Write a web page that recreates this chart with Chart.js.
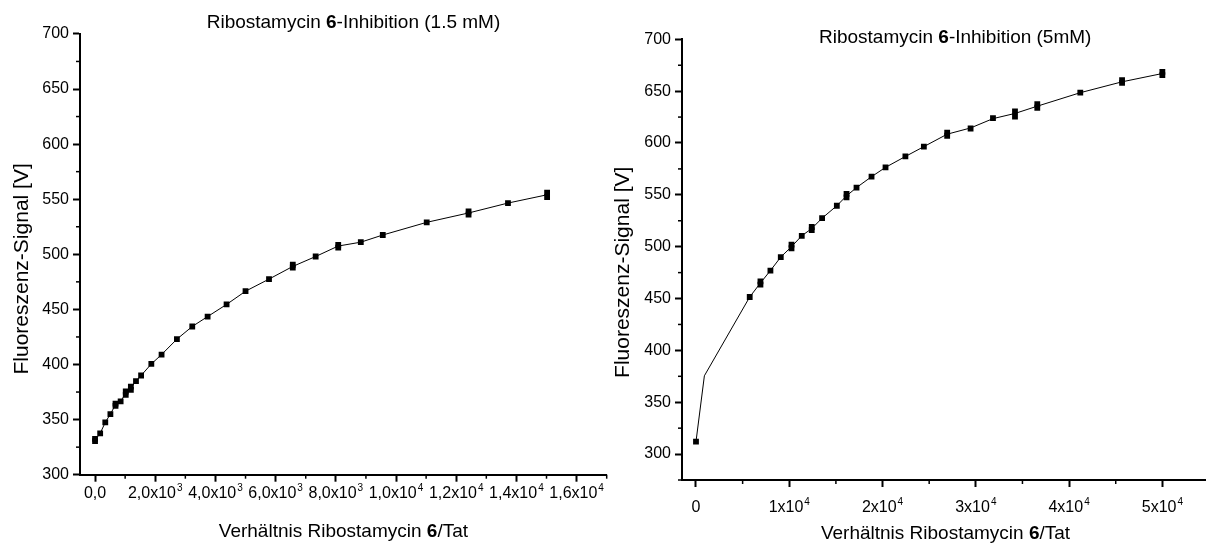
<!DOCTYPE html>
<html>
<head>
<meta charset="utf-8">
<script src="https://cdn.jsdelivr.net/npm/chart.js@4/dist/chart.umd.min.js"></script>
<style>
  html, body { margin: 0; padding: 0; background: #fff; overflow: hidden; }
  body { width: 1206px; height: 549px; position: relative; }
  canvas { position: absolute; top: 0; }
  #left { left: 0; }
  #right { left: 600px; }
</style>
</head>
<body>
<canvas id="left" width="620" height="549"></canvas>
<canvas id="right" width="620" height="549"></canvas>
<script>
// Left panel: Ribostamycin 6 at 1.5 mM
const leftX = [0, 0, 170, 340, 510, 680, 680, 850, 1020, 1020, 1190, 1190, 1360, 1530, 1870, 2210, 2720, 3230, 3740, 4370, 5000, 5780, 6570, 6570, 7330, 8080, 8080, 8830, 9560, 11020, 12410, 12410, 13720, 15020, 15020];
const leftY = [330.5, 332.5, 337.5, 347.5, 355, 362.5, 364.5, 366.5, 372.5, 375.5, 377, 380, 385, 390, 400.5, 409, 423, 434.5, 443.5, 454.5, 466.5, 477.5, 488, 490.5, 498, 506, 508.5, 511, 517.5, 529, 536, 539, 546.5, 552, 556];
const leftFitX = [0, 170, 340, 510, 680, 850, 1020, 1190, 1360, 1530, 1870, 2210, 2720, 3230, 3740, 4370, 5000, 5780, 6570, 7330, 8080, 8830, 9560, 11020, 12410, 13720, 15020];
const leftFitY = [331.5, 337.5, 347.5, 355, 363.5, 366.5, 374, 378.5, 385, 390, 400.5, 409, 423, 434.5, 443.5, 454.5, 466.5, 477.5, 489, 498, 507.5, 511, 517.5, 529, 537.5, 546.5, 554];
const leftTickX = [0, 2000, 4000, 6000, 8000, 10000, 12000, 14000, 16000];
const leftTickXLabels = ["0,0", "2,0x10^3", "4,0x10^3", "6,0x10^3", "8,0x10^3", "1,0x10^4", "1,2x10^4", "1,4x10^4", "1,6x10^4"];

// Right panel: Ribostamycin 6 at 5 mM
const rightX = [0, 5760, 6910, 6910, 7980, 9090, 10240, 10240, 11340, 12410, 12410, 13520, 15100, 16140, 16140, 17210, 18820, 20320, 22450, 24430, 26930, 26930, 29440, 31840, 34200, 34200, 36590, 36590, 41200, 45680, 45680, 50000, 50000];
const rightY = [312, 451.5, 463.5, 466.5, 477, 490, 498.5, 502, 510.5, 516, 519, 527.5, 539.5, 547.5, 551, 557, 567.5, 576.5, 587, 596.5, 607, 610, 614, 624, 625.5, 630.5, 634, 637.5, 648.5, 658, 660.5, 665.5, 668.5];
const rightFitX = [0, 900, 5760, 6910, 7980, 9090, 10240, 11340, 12410, 13520, 15100, 16140, 17210, 18820, 20320, 22450, 24430, 26930, 29440, 31840, 34200, 36590, 41200, 45680, 50000];
const rightFitY = [312, 375.5, 451.5, 465, 477, 490, 500, 510.5, 517.5, 527.5, 539.5, 549, 557, 567.5, 576.5, 587, 596.5, 608.5, 614.5, 623.5, 628.5, 635.5, 648.5, 659, 667];
const rightTickX = [0, 10000, 20000, 30000, 40000, 50000];
const rightTickXLabels = ["0", "1x10^4", "2x10^4", "3x10^4", "4x10^4", "5x10^4"];

const tickY = [300, 350, 400, 450, 500, 550, 600, 650, 700];
const tickYLabels = ["300", "350", "400", "450", "500", "550", "600", "650", "700"];

const FONT = "'Liberation Sans', Arial, sans-serif";

// short outward ticks between the labelled ones
const minorTicks = {
  id: "minorTicks",
  afterDraw(chart, args, opts) {
    const ctx = chart.ctx;
    ctx.save();
    ctx.strokeStyle = "#000";
    ctx.lineWidth = 1.5;
    ["x", "y"].forEach((id) => {
      const s = chart.scales[id];
      const step = opts[id];
      for (let v = Math.ceil(s.min / step) * step; v <= s.max; v += step) {
        if (s.ticks.some((t) => t.value === v)) continue;
        const p = s.getPixelForValue(v);
        ctx.beginPath();
        if (id === "x") {
          ctx.moveTo(p, s.top);
          ctx.lineTo(p, s.top + opts.len);
        } else {
          ctx.moveTo(s.right, p);
          ctx.lineTo(s.right - opts.len, p);
        }
        ctx.stroke();
      }
    });
    ctx.restore();
  },
};

// x tick labels with a raised exponent ("2,0x10^3")
const supTicks = {
  id: "supTicks",
  afterDraw(chart, args, opts) {
    const ctx = chart.ctx;
    const s = chart.scales.x;
    ctx.save();
    ctx.fillStyle = "#000";
    ctx.textBaseline = "alphabetic";
    ctx.textAlign = "left";
    s.ticks.forEach((t) => {
      const parts = opts.labels[opts.values.indexOf(t.value)].split("^");
      ctx.font = "16px " + FONT;
      const w1 = ctx.measureText(parts[0]).width;
      ctx.font = "10px " + FONT;
      const w2 = parts[1] ? ctx.measureText(parts[1]).width + 1 : 0;
      const x0 = s.getPixelForValue(t.value) - (w1 + w2) / 2;
      const y0 = s.top + opts.offset;
      ctx.font = "16px " + FONT;
      ctx.fillText(parts[0], x0, y0);
      if (parts[1]) {
        ctx.font = "10px " + FONT;
        ctx.fillText(parts[1], x0 + w1 + 1, y0 - 7);
      }
    });
    ctx.restore();
  },
};

// titles with a bold "6" in them
const richText = {
  id: "richText",
  afterDraw(chart, args, opts) {
    const ctx = chart.ctx;
    opts.items.forEach((it) => {
      ctx.save();
      ctx.fillStyle = "#000";
      ctx.textBaseline = "alphabetic";
      ctx.textAlign = "left";
      const fonts = it.parts.map((p) => (p[1] ? "bold " : "") + it.size + "px " + FONT);
      let total = 0;
      it.parts.forEach((p, i) => {
        ctx.font = fonts[i];
        total += ctx.measureText(p[0]).width;
      });
      ctx.translate(it.x, it.y);
      if (it.rotate) ctx.rotate(-Math.PI / 2);
      let cx = it.align === "center" ? -total / 2 : 0;
      it.parts.forEach((p, i) => {
        ctx.font = fonts[i];
        ctx.fillText(p[0], cx, 0);
        cx += ctx.measureText(p[0]).width;
      });
      ctx.restore();
    });
  },
};

const xTitle = [["Verhältnis Ribostamycin ", false], ["6", true], ["/Tat", false]];
const yTitle = [["Fluoreszenz-Signal [V]", false]];

const makeChart = (id, cfg) => {
  const ctx = document.getElementById(id).getContext("2d");
  return new Chart(ctx, {
    type: "scatter",
    data: {
      datasets: [
        {
          data: cfg.fitX.map((x, i) => ({ x: x, y: cfg.fitY[i] })),
          showLine: true,
          borderColor: "#000",
          borderWidth: 1,
          pointRadius: 0,
          tension: 0,
        },
        {
          data: cfg.xs.map((x, i) => ({ x: x, y: cfg.ys[i] })),
          pointStyle: "rect",
          pointRadius: 4.1,
          backgroundColor: "#000",
          borderWidth: 0,
        },
      ],
    },
    options: {
      responsive: false,
      animation: false,
      layout: { padding: cfg.padding },
      plugins: {
        legend: { display: false },
        tooltip: { enabled: false },
        minorTicks: { x: cfg.minorX, y: 25, len: 4 },
        supTicks: { values: cfg.tickX, labels: cfg.tickXLabels, offset: cfg.labelOffset },
        richText: { items: cfg.texts },
      },
      scales: {
        x: {
          type: "linear",
          min: cfg.xMin,
          max: cfg.xMax,
          afterBuildTicks: (axis) => {
            axis.ticks = cfg.tickX.map((v) => ({ value: v }));
          },
          afterFit: (scale) => {
            scale.height = cfg.xHeight;
          },
          ticks: { display: false },
          grid: { drawOnChartArea: false, drawTicks: true, tickLength: 7, tickColor: "#000", tickWidth: 2 },
          border: { color: "#000", width: 2 },
        },
        y: {
          type: "linear",
          min: cfg.yMin,
          max: 700,
          afterBuildTicks: (axis) => {
            axis.ticks = tickY.map((v) => ({ value: v }));
          },
          afterFit: (scale) => {
            scale.width = cfg.yWidth;
          },
          ticks: {
            callback: (v) => tickYLabels[tickY.indexOf(v)],
            color: "#000",
            font: { family: FONT, size: 16 },
            padding: 4,
          },
          grid: { drawOnChartArea: false, tickLength: 7, tickColor: "#000", tickWidth: 2 },
          border: { color: "#000", width: 2 },
        },
      },
    },
    plugins: [minorTicks, supTicks, richText],
  });
};

makeChart("left", {
  xs: leftX, ys: leftY, fitX: leftFitX, fitY: leftFitY,
  tickX: leftTickX, tickXLabels: leftTickXLabels,
  xMin: -500, xMax: 17000, yMin: 300, minorX: 1000,
  yWidth: 80, xHeight: 74.3, labelOffset: 23.5,
  padding: { left: 0, top: 33.9, right: 13.3, bottom: 0 },
  texts: [
    { parts: [["Ribostamycin ", false], ["6", true], ["-Inhibition (1.5 mM)", false]], x: 206.7, y: 27.5, size: 19, align: "left" },
    { parts: xTitle, x: 343.4, y: 537, size: 19, align: "center" },
    { parts: yTitle, x: 28.3, y: 268.9, size: 21, align: "center", rotate: true },
  ],
});

makeChart("right", {
  xs: rightX, ys: rightY, fitX: rightFitX, fitY: rightFitY,
  tickX: rightTickX, tickXLabels: rightTickXLabels,
  xMin: -1500, xMax: 55000, yMin: 275, minorX: 5000,
  yWidth: 82, xHeight: 69, labelOffset: 31.5,
  padding: { left: 0, top: 39.3, right: 11, bottom: 0 },
  texts: [
    { parts: [["Ribostamycin ", false], ["6", true], ["-Inhibition (5mM)", false]], x: 219, y: 42.7, size: 19, align: "left" },
    { parts: xTitle, x: 345.5, y: 539, size: 19, align: "center" },
    { parts: yTitle, x: 29, y: 272.3, size: 21, align: "center", rotate: true },
  ],
});
</script>
</body>
</html>
